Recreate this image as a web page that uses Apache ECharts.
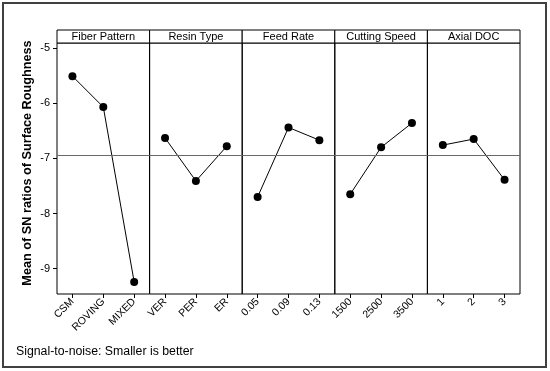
<!DOCTYPE html>
<html><head><meta charset="utf-8">
<script src="https://cdn.jsdelivr.net/npm/echarts@6/dist/echarts.min.js"></script>
<style>html,body{margin:0;padding:0;background:#fff}#c{width:550px;height:371px}</style>
</head><body><div id="c"></div>
<script>
const factors = ["Fiber Pattern", "Resin Type", "Feed Rate", "Cutting Speed", "Axial DOC"];
const levelsFiber = ["CSM", "ROVING", "MIXED"];
const levelsResin = ["VER", "PER", "ER"];
const levelsFeed = ["0.05", "0.09", "0.13"];
const levelsSpeed = ["1500", "2500", "3500"];
const levelsDoc = ["1", "2", "3"];
const snFiber = [-5.51, -6.07, -9.24];
const snResin = [-6.63, -7.41, -6.78];
const snFeed = [-7.70, -6.44, -6.67];
const snSpeed = [-7.65, -6.80, -6.36];
const snDoc = [-6.76, -6.65, -7.39];
const yTicks = [-9, -8, -7, -6, -5];
const grandMean = -6.94;
const yTitle = "Mean of SN ratios of Surface Roughness";
const footer = "Signal-to-noise: Smaller is better";

const levels = [levelsFiber, levelsResin, levelsFeed, levelsSpeed, levelsDoc];
const values = [snFiber, snResin, snFeed, snSpeed, snDoc];
const FONT = "Liberation Sans";
const L = 57, R = 520, TOP = 43, BOT = 294, HEAD = 30;
const pw = (R - L) / 5;
const grids = [], xAxes = [], yAxes = [], series = [], graphics = [];
for (let i = 0; i < 5; i++) {
  grids.push({left: L + i * pw, top: TOP, width: pw, height: BOT - TOP, show: true, borderColor: '#000', borderWidth: 1, backgroundColor: 'transparent'});
  xAxes.push({type: 'category', gridIndex: i, data: levels[i], boundaryGap: true,
    axisLine: {show: false}, axisTick: {show: true, alignWithLabel: true, inside: false, length: 4, lineStyle: {color: '#000'}},
    axisLabel: {rotate: 45, fontSize: 10.5, color: '#000', fontFamily: FONT, margin: 6, interval: 0},
    splitLine: {show: false}});
  yAxes.push({type: 'value', gridIndex: i, min: -9.459, max: -4.909,
    axisLine: {show: false}, splitLine: {show: false},
    axisTick: {show: i === 0, length: 4, lineStyle: {color: '#000'}, customValues: yTicks},
    axisLabel: {show: i === 0, fontSize: 11, color: '#000', fontFamily: FONT, margin: 7, customValues: yTicks}});
  series.push({type: 'line', xAxisIndex: i, yAxisIndex: i, data: values[i],
    symbol: 'circle', symbolSize: 8, itemStyle: {color: '#000'}, lineStyle: {color: '#000', width: 1},
    animation: false,
    markLine: {silent: true, symbol: 'none', label: {show: false}, lineStyle: {color: '#6a6a6a', type: 'solid', width: 1},
      data: [{yAxis: grandMean}]}, z: 3});
  graphics.push({type: 'rect', shape: {x: L + i * pw, y: HEAD, width: pw, height: TOP - HEAD},
    style: {fill: '#fff', stroke: '#000', lineWidth: 1}});
  graphics.push({type: 'text', x: L + i * pw + pw / 2, y: HEAD + (TOP - HEAD) / 2,
    style: {text: factors[i], font: '11px "' + FONT + '"', fill: '#000', align: 'center', verticalAlign: 'middle'}});
}
graphics.push({type: 'text', x: 27, y: 163, rotation: Math.PI / 2,
  style: {text: yTitle, font: 'bold 12.7px "' + FONT + '"', fill: '#000', align: 'center', verticalAlign: 'middle'}});
graphics.push({type: 'rect', shape: {x: 3, y: 3, width: 543, height: 364}, style: {fill: 'none', stroke: '#404040', lineWidth: 2}});
graphics.push({type: 'text', x: 16, y: 352, style: {text: footer, font: '12.3px "' + FONT + '"', fill: '#000', verticalAlign: 'middle'}});

const chart = echarts.init(document.getElementById('c'));
chart.setOption({animation: false, grid: grids, xAxis: xAxes, yAxis: yAxes, series: series, graphic: graphics});
</script></body></html>
